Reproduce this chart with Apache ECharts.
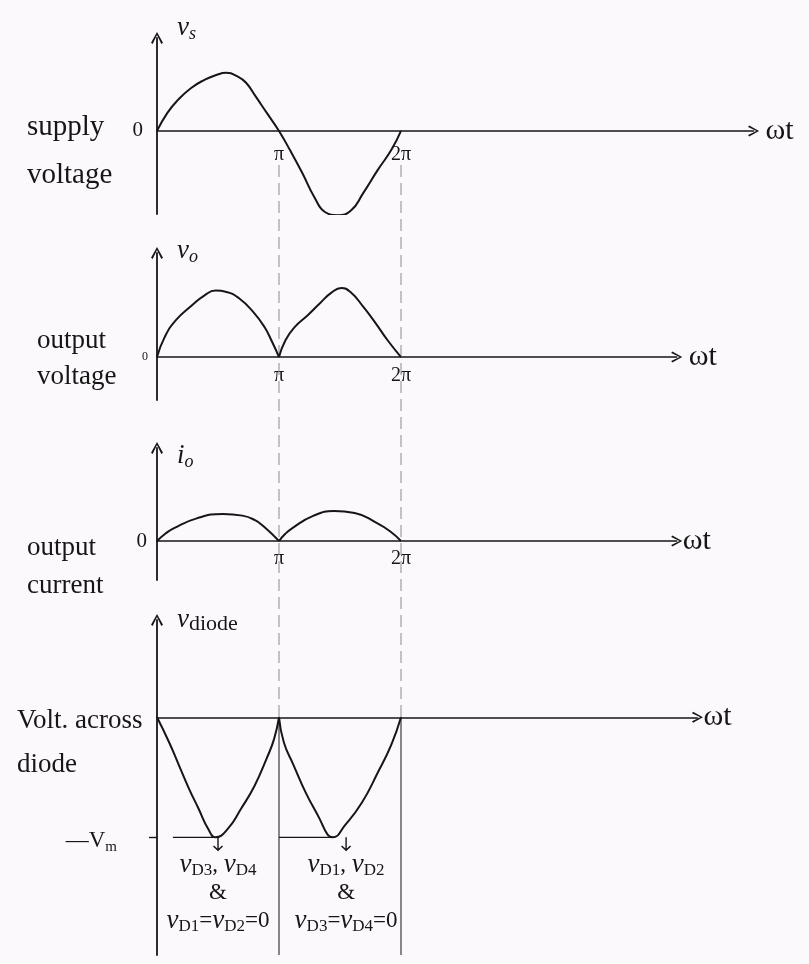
<!DOCTYPE html>
<html>
<head>
<meta charset="utf-8">
<script src="https://cdn.jsdelivr.net/npm/echarts@6/dist/echarts.min.js"></script>
<style>
  html, body { margin: 0; padding: 0; background: #fcf9fc; }
  #chart { width: 809px; height: 964px; }
</style>
</head>
<body>
<div id="chart"></div>
<script>
// Phase axis is measured in multiples of π
const phaseTickValues = [1, 2];
const phaseTickLabels = ['π', '2π'];

// Supply voltage v_s over one cycle [phase/π, value]
const supplyVoltage = [[0,0],[0.085,0.31],[0.17,0.53],[0.28,0.74],[0.39,0.88],[0.48,0.96],[0.57,1.0],[0.66,0.94],[0.73,0.83],[0.81,0.59],[0.90,0.31],[1,0],
  [1.09,-0.33],[1.19,-0.72],[1.29,-1.14],[1.38,-1.40],[1.48,-1.45],[1.59,-1.37],[1.69,-1.07],[1.81,-0.67],[1.92,-0.33],[2,0]];

// Rectified output voltage v_o, one arch per half cycle
const outputVoltageA = [[0,0],[0.064,0.30],[0.155,0.55],[0.28,0.76],[0.39,0.92],[0.48,0.99],[0.57,0.97],[0.67,0.88],[0.79,0.67],[0.88,0.45],[0.945,0.22],[1,0]];
const outputVoltageB = [[1,0],[1.053,0.25],[1.13,0.45],[1.24,0.63],[1.34,0.81],[1.43,0.96],[1.51,1.03],[1.59,0.96],[1.69,0.75],[1.79,0.51],[1.89,0.25],[2,0]];

// Output current i_o
const outputCurrentA = [[0,0],[0.07,0.28],[0.14,0.48],[0.32,0.83],[0.54,1.0],[0.70,0.94],[0.80,0.78],[0.88,0.52],[1,0]];
const outputCurrentB = [[1,0],[1.05,0.26],[1.11,0.48],[1.28,0.93],[1.45,1.11],[1.62,1.04],[1.80,0.67],[1.91,0.36],[2,0]];

// Voltage across the blocking diodes (in units of Vm)
const diodeVoltageA = [[0,0],[0.10,-0.21],[0.18,-0.40],[0.26,-0.59],[0.34,-0.76],[0.42,-0.93],[0.48,-1.0],[0.58,-0.93],[0.69,-0.76],[0.80,-0.57],[0.90,-0.34],[0.96,-0.18],[1,0]];
const diodeVoltageB = [[1,0],[1.04,-0.21],[1.12,-0.40],[1.22,-0.63],[1.33,-0.84],[1.40,-0.98],[1.44,-1.0],[1.54,-0.90],[1.68,-0.71],[1.81,-0.46],[1.92,-0.23],[2,0]];

// -Vm guide strokes near each trough
const vmGuideA = [[0.13,-1],[0.48,-1]];
const vmGuideB = [[1.0,-1],[1.44,-1]];
const vmLevel = [-1];

// Diode-state notes hung under each trough
const noteAnchors = [[0.5,-1],[1.55,-1]];
const noteTexts = [
  '{v|v}{s|D3}{t|, }{v|v}{s|D4}\n{t|&}\n{v|v}{s|D1}{t|=}{v|v}{s|D2}{t|=0}',
  '{v|v}{s|D1}{t|, }{v|v}{s|D2}\n{t|&}\n{v|v}{s|D3}{t|=}{v|v}{s|D4}{t|=0}'
];

// Panel captions and axis names
const panelCaptions = ['supply\nvoltage', 'output\nvoltage', 'output\ncurrent', 'Volt. across\ndiode'];
const yNames = ['{v|v}{s|s}', '{v|v}{s|o}', '{v|i}{s|o}', '{v|v}{d|diode}'];
const xName = 'ωt';

// Axis extents per panel (data units)
const xMaxes = [4.89, 4.26, 4.26, 4.43];
const yMins = [-1.43, -0.64, -1.44, -1.98];
const yMaxes = [1.6, 1.55, 3.44, 0.81];

// ---- layout ----
const INK = '#161616';
const FONT = "'Liberation Serif', 'DejaVu Serif', serif";
const PX_PER_PI = 122;
const LEFT = 157;
const panelTops = [38, 253, 448, 620];
const panelHeights = [176, 147, 132, 335];
const ARROW = 'path://M5,0 L10,9 L8.6,10 L5,2.4 L1.4,10 L0,9 Z';
const DOWN_ARROW = 'path://M4.3,0 L5.7,0 L5.7,11.6 L9,8.4 L10,9.4 L5,14.5 L0,9.4 L1,8.4 L4.3,11.6 Z';

const richName = {
  v: { fontFamily: FONT, fontStyle: 'italic', fontSize: 27, color: INK, lineHeight: 30, verticalAlign: 'middle' },
  s: { fontFamily: FONT, fontStyle: 'italic', fontSize: 18, color: INK, lineHeight: 16, verticalAlign: 'bottom' },
  d: { fontFamily: FONT, fontSize: 22, color: INK, lineHeight: 20, verticalAlign: 'bottom' }
};
const richNote = {
  v: { fontFamily: FONT, fontStyle: 'italic', fontSize: 27, color: INK, lineHeight: 28, verticalAlign: 'middle' },
  s: { fontFamily: FONT, fontSize: 17, color: INK, lineHeight: 16, verticalAlign: 'bottom' },
  t: { fontFamily: FONT, fontSize: 23, color: INK, lineHeight: 28, verticalAlign: 'middle' }
};

// x labels sit at the grid edge, so pull them up to the zero line
const xLabelMargins = [-69, -34, -31, 0];
const xNameGaps = [12, 12, 6, 6];
const yNameGaps = [10, 2, -8, 0];
const zeroLabel = [
  { show: true, fontSize: 21, margin: 14, padding: [14, 0, 0, 0] },
  { show: true, fontSize: 12, margin: 9, padding: [10, 0, 0, 0] },
  { show: true, fontSize: 21, margin: 10, padding: [8, 0, 0, 0] },
  null
];

const grids = [], xAxes = [], yAxes = [], series = [];

panelTops.forEach((top, i) => {
  grids.push({ left: LEFT, top: top, height: panelHeights[i], width: xMaxes[i] * PX_PER_PI });
  xAxes.push({
    gridIndex: i, type: 'value', min: 0, max: xMaxes[i], interval: 1,
    axisLine: { onZero: true, symbol: ['none', ARROW], symbolSize: [11, 13],
      lineStyle: { color: INK, width: 1.6 } },
    axisTick: { show: false }, splitLine: { show: false },
    axisLabel: {
      show: i < 3, customValues: phaseTickValues, margin: xLabelMargins[i],
      fontFamily: FONT, fontSize: 20, color: INK,
      formatter: v => phaseTickLabels[phaseTickValues.indexOf(v)] || ''
    },
    name: xName, nameLocation: 'end', nameGap: xNameGaps[i],
    nameTextStyle: { fontFamily: FONT, fontSize: 30, color: INK, verticalAlign: 'middle' }
  });
  const y = {
    gridIndex: i, type: 'value', min: yMins[i], max: yMaxes[i],
    axisLine: { show: true, onZero: false, symbol: ['none', ARROW], symbolSize: [12, 13],
      lineStyle: { color: INK, width: 1.8 } },
    axisTick: { show: false }, splitLine: { show: false },
    name: yNames[i], nameLocation: 'end', nameGap: yNameGaps[i],
    nameTextStyle: { align: 'left', verticalAlign: 'middle', padding: [0, 0, 0, 20], rich: richName }
  };
  if (zeroLabel[i]) {
    y.axisLabel = Object.assign({ customValues: [0], formatter: '0', fontFamily: FONT, color: INK }, zeroLabel[i]);
  } else {
    y.axisTick = { show: true, customValues: vmLevel, length: 8, lineStyle: { color: INK, width: 1.4 } };
    y.axisLabel = { show: true, customValues: vmLevel, margin: 40, padding: [8, 0, 0, 0], color: INK,
      formatter: () => '{t|—V}{m|m}',
      rich: {
        t: { fontFamily: FONT, fontSize: 23, color: INK, lineHeight: 26, verticalAlign: 'middle' },
        m: { fontFamily: FONT, fontSize: 15, color: INK, lineHeight: 16, verticalAlign: 'bottom' }
      } };
  }
  yAxes.push(y);
});

// Overlay grid for the π / 2π guides running through the upper panels
grids.push({ left: LEFT, top: 160, height: 717 - 160, width: 2.5 * PX_PER_PI });
xAxes.push({ gridIndex: 4, type: 'value', min: 0, max: 2.5, show: false });
yAxes.push({ gridIndex: 4, type: 'value', min: 0, max: 1, show: false });

const curve = (data, idx) => ({
  type: 'line', xAxisIndex: idx, yAxisIndex: idx, data: data, showSymbol: false, symbol: 'none',
  smooth: 0.5, lineStyle: { color: INK, width: 2 }, silent: true, animation: false, z: 5
});

phaseTickValues.forEach(p => {
  series.push({
    type: 'line', xAxisIndex: 4, yAxisIndex: 4, data: [[p, 0], [p, 1]], symbol: 'none',
    lineStyle: { color: '#8c8c8c', width: 1, type: [12, 6] }, silent: true, animation: false, z: 1
  });
  series.push({
    type: 'line', xAxisIndex: 3, yAxisIndex: 3, data: [[p, 0], [p, yMins[3]]], symbol: 'none',
    lineStyle: { color: '#3a3a3a', width: 1.2 }, silent: true, animation: false, z: 1
  });
});

series.push(curve(supplyVoltage, 0));
series.push(curve(outputVoltageA, 1));
series.push(curve(outputVoltageB, 1));
series.push(curve(outputCurrentA, 2));
series.push(curve(outputCurrentB, 2));
series.push(curve(diodeVoltageA, 3));
series.push(curve(diodeVoltageB, 3));

[vmGuideA, vmGuideB].forEach(g => series.push({
  type: 'line', xAxisIndex: 3, yAxisIndex: 3, data: g, symbol: 'none',
  lineStyle: { color: INK, width: 1.3 }, silent: true, animation: false, z: 4
}));

series.push({
  type: 'scatter', xAxisIndex: 3, yAxisIndex: 3, silent: true, animation: false, z: 6,
  symbol: DOWN_ARROW, symbolSize: [10, 14], symbolOffset: [0, 7],
  itemStyle: { color: INK, opacity: 1 },
  data: noteAnchors.map((p, k) => ({
    value: p,
    label: { show: true, position: 'bottom', distance: 0, align: 'center', color: INK,
      opacity: 1, textBorderWidth: 0, formatter: noteTexts[k], rich: richNote }
  }))
});

const captionStyle = (size, lh) => ({ fontFamily: FONT, fontSize: size, fontWeight: 'normal', color: INK, lineHeight: lh });

const chart = echarts.init(document.getElementById('chart'), null, { renderer: 'canvas' });
chart.setOption({
  backgroundColor: '#fcf9fc',
  animation: false,
  title: [
    { text: panelCaptions[0], left: 22, top: 98, textStyle: captionStyle(29, 48) },
    { text: panelCaptions[1], left: 32, top: 318, textStyle: captionStyle(27, 36) },
    { text: panelCaptions[2], left: 22, top: 524, textStyle: captionStyle(27, 38) },
    { text: panelCaptions[3], left: 12, top: 694, textStyle: captionStyle(27, 44) }
  ],
  grid: grids, xAxis: xAxes, yAxis: yAxes, series: series
});
</script>
</body>
</html>
